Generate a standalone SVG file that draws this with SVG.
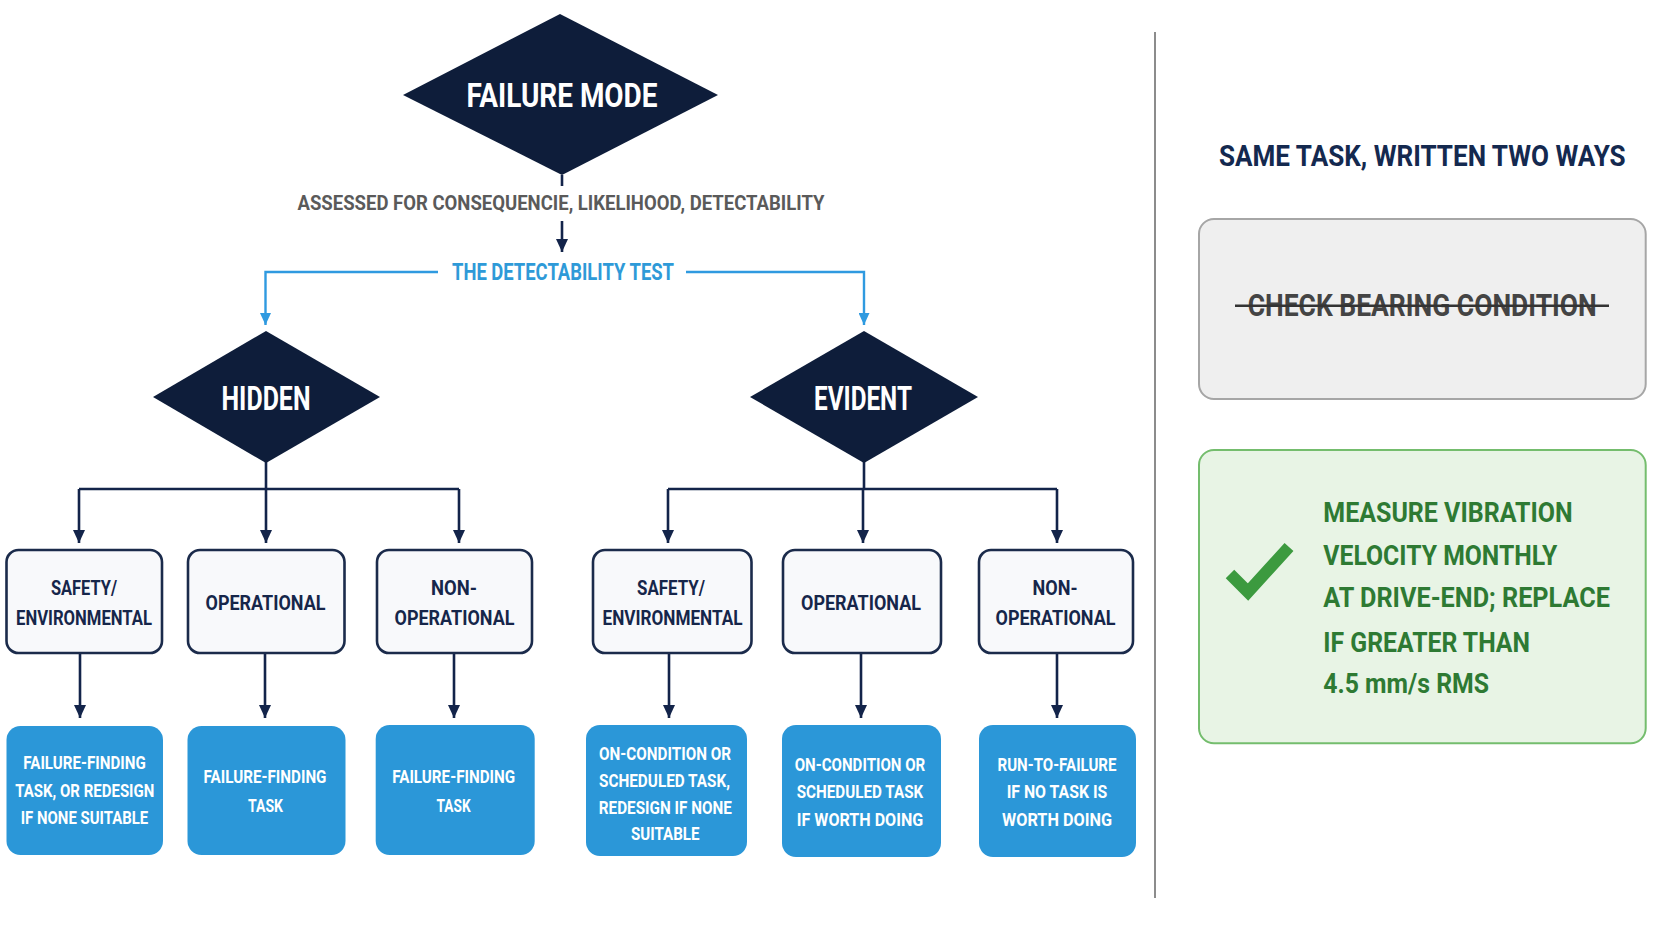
<svg xmlns="http://www.w3.org/2000/svg" width="1672" height="941" viewBox="0 0 1672 941">
<style>
text{font-family:"Liberation Sans Narrow","Roboto","DejaVu Sans Condensed",sans-serif;text-anchor:middle}
.dia{fill:#0e1d3a}
.dlab{fill:#ffffff;font-weight:700;font-size:33px}
.cat{fill:#f8f9fb;stroke:#1b2b4b;stroke-width:2.6}
.clab{fill:#16264a;font-weight:700;font-size:21px}
.task{fill:#2b97d8}
.tlab{fill:#ffffff;font-weight:700;font-size:19px}
.nav{fill:none;stroke:#13244a;stroke-width:2.6}
.blu{fill:none;stroke:#2f9ae0;stroke-width:2.4}
.gl{fill:#2e7a33;font-weight:700;font-size:28px;text-anchor:start}
</style>
<defs>
<marker id="an" viewBox="0 0 13 12" refX="13" refY="6" markerWidth="13" markerHeight="12" markerUnits="userSpaceOnUse" orient="auto"><path d="M0,0 L13,6 L0,12 z" fill="#13244a"/></marker>
<marker id="ab" viewBox="0 0 12 11" refX="12" refY="5.5" markerWidth="12" markerHeight="11" markerUnits="userSpaceOnUse" orient="auto"><path d="M0,0 L12,5.5 L0,11 z" fill="#2f9ae0"/></marker>
</defs>
<rect width="1672" height="941" fill="#ffffff"/>

<g id="connectors">
<path class="nav" d="M562,175 V186"/>
<path class="nav" d="M562,221 V252" marker-end="url(#an)"/>
<path class="blu" d="M438,272 H265.5 V325" marker-end="url(#ab)"/>
<path class="blu" d="M686,272 H864 V325" marker-end="url(#ab)"/>
<path class="nav" d="M266,462 V489"/>
<path class="nav" d="M79,489 H459"/>
<path class="nav" d="M79,489 V543" marker-end="url(#an)"/>
<path class="nav" d="M266,489 V543" marker-end="url(#an)"/>
<path class="nav" d="M459,489 V543" marker-end="url(#an)"/>
<path class="nav" d="M864,462 V489"/>
<path class="nav" d="M668,489 H1057"/>
<path class="nav" d="M668,489 V543" marker-end="url(#an)"/>
<path class="nav" d="M863,489 V543" marker-end="url(#an)"/>
<path class="nav" d="M1057,489 V543" marker-end="url(#an)"/>
<path class="nav" d="M80,653 V718" marker-end="url(#an)"/>
<path class="nav" d="M265,653 V718" marker-end="url(#an)"/>
<path class="nav" d="M454,653 V718" marker-end="url(#an)"/>
<path class="nav" d="M669,653 V718" marker-end="url(#an)"/>
<path class="nav" d="M861,653 V718" marker-end="url(#an)"/>
<path class="nav" d="M1057,653 V718" marker-end="url(#an)"/>
</g>

<g id="failure-mode">
<polygon class="dia" points="560,14 718,95 562,175 403,95"/>
<text class="dlab" x="562" y="107" font-size="32" textLength="191" lengthAdjust="spacingAndGlyphs">FAILURE MODE</text>
</g>
<g id="assessed">
<text x="561" y="210" fill="#5a5a5a" font-weight="700" font-size="21" textLength="527" lengthAdjust="spacingAndGlyphs">ASSESSED FOR CONSEQUENCIE, LIKELIHOOD, DETECTABILITY</text>
</g>
<g id="detectability-test">
<text x="563" y="280" fill="#2e9ad8" font-weight="700" font-size="23.5" textLength="222" lengthAdjust="spacingAndGlyphs">THE DETECTABILITY TEST</text>
</g>

<g id="hidden">
<polygon class="dia" points="266,331 380,397 266,463 153,397"/>
<text class="dlab" x="266" y="410" textLength="89" lengthAdjust="spacingAndGlyphs">HIDDEN</text>
</g>
<g id="evident">
<polygon class="dia" points="864,331 978,397 864,463 750,397"/>
<text class="dlab" x="863" y="410" textLength="98" lengthAdjust="spacingAndGlyphs">EVIDENT</text>
</g>

<g id="h-safety">
<rect class="cat" x="6.5" y="550" width="155.5" height="103" rx="12"/>
<text class="clab" x="84" y="595" textLength="66" lengthAdjust="spacingAndGlyphs">SAFETY/</text>
<text class="clab" x="84" y="625" textLength="136" lengthAdjust="spacingAndGlyphs">ENVIRONMENTAL</text>
</g>
<g id="h-operational">
<rect class="cat" x="188" y="550" width="156.5" height="103" rx="12"/>
<text class="clab" x="265.5" y="610" textLength="120" lengthAdjust="spacingAndGlyphs">OPERATIONAL</text>
</g>
<g id="h-nonoperational">
<rect class="cat" x="377" y="550" width="155" height="103" rx="12"/>
<text class="clab" x="454" y="595" textLength="46" lengthAdjust="spacingAndGlyphs">NON-</text>
<text class="clab" x="454.5" y="625" textLength="120" lengthAdjust="spacingAndGlyphs">OPERATIONAL</text>
</g>
<g id="e-safety">
<rect class="cat" x="593" y="550" width="158.5" height="103" rx="12"/>
<text class="clab" x="671" y="595" textLength="68" lengthAdjust="spacingAndGlyphs">SAFETY/</text>
<text class="clab" x="672.5" y="625" textLength="140" lengthAdjust="spacingAndGlyphs">ENVIRONMENTAL</text>
</g>
<g id="e-operational">
<rect class="cat" x="783" y="550" width="158" height="103" rx="12"/>
<text class="clab" x="861" y="610" textLength="120" lengthAdjust="spacingAndGlyphs">OPERATIONAL</text>
</g>
<g id="e-nonoperational">
<rect class="cat" x="979" y="550" width="154" height="103" rx="12"/>
<text class="clab" x="1055" y="595" textLength="45" lengthAdjust="spacingAndGlyphs">NON-</text>
<text class="clab" x="1055.5" y="625" textLength="120" lengthAdjust="spacingAndGlyphs">OPERATIONAL</text>
</g>

<g id="h-safety-task">
<rect class="task" x="6.5" y="726" width="156.5" height="129" rx="14"/>
<text class="tlab" x="84.5" y="769" textLength="122.5" lengthAdjust="spacingAndGlyphs">FAILURE-FINDING</text>
<text class="tlab" x="84.8" y="796.5" textLength="139" lengthAdjust="spacingAndGlyphs">TASK, OR REDESIGN</text>
<text class="tlab" x="84.5" y="823.5" textLength="127.5" lengthAdjust="spacingAndGlyphs">IF NONE SUITABLE</text>
</g>
<g id="h-operational-task">
<rect class="task" x="187.5" y="726" width="158" height="129" rx="14"/>
<text class="tlab" x="265" y="783" textLength="123" lengthAdjust="spacingAndGlyphs">FAILURE-FINDING</text>
<text class="tlab" x="265.5" y="811.5" textLength="35" lengthAdjust="spacingAndGlyphs">TASK</text>
</g>
<g id="h-nonoperational-task">
<rect class="task" x="375.7" y="725" width="159" height="130" rx="14"/>
<text class="tlab" x="453.7" y="783" textLength="123" lengthAdjust="spacingAndGlyphs">FAILURE-FINDING</text>
<text class="tlab" x="453.6" y="811.5" textLength="34" lengthAdjust="spacingAndGlyphs">TASK</text>
</g>
<g id="e-safety-task">
<rect class="task" x="586" y="725" width="161" height="131" rx="14"/>
<text class="tlab" x="665" y="760" textLength="132" lengthAdjust="spacingAndGlyphs">ON-CONDITION OR</text>
<text class="tlab" x="664.5" y="787" textLength="131" lengthAdjust="spacingAndGlyphs">SCHEDULED TASK,</text>
<text class="tlab" x="665.3" y="814" textLength="133" lengthAdjust="spacingAndGlyphs">REDESIGN IF NONE</text>
<text class="tlab" x="665.2" y="840" textLength="68.5" lengthAdjust="spacingAndGlyphs">SUITABLE</text>
</g>
<g id="e-operational-task">
<rect class="task" x="782" y="725" width="159" height="132" rx="14"/>
<text class="tlab" x="860" y="771" textLength="130.6" lengthAdjust="spacingAndGlyphs">ON-CONDITION OR</text>
<text class="tlab" x="860" y="798.3" textLength="126.5" lengthAdjust="spacingAndGlyphs">SCHEDULED TASK</text>
<text class="tlab" x="860" y="825.7" textLength="126.5" lengthAdjust="spacingAndGlyphs">IF WORTH DOING</text>
</g>
<g id="e-nonoperational-task">
<rect class="task" x="979" y="725" width="157" height="132" rx="14"/>
<text class="tlab" x="1057" y="771" textLength="119" lengthAdjust="spacingAndGlyphs">RUN-TO-FAILURE</text>
<text class="tlab" x="1057" y="798.3" textLength="100.7" lengthAdjust="spacingAndGlyphs">IF NO TASK IS</text>
<text class="tlab" x="1057" y="825.7" textLength="110" lengthAdjust="spacingAndGlyphs">WORTH DOING</text>
</g>

<line x1="1155" y1="32" x2="1155" y2="898" stroke="#8c8c8c" stroke-width="2"/>

<g id="panel-title">
<text x="1422.3" y="165.7" fill="#14294f" font-weight="700" font-size="30" textLength="406.7" lengthAdjust="spacingAndGlyphs">SAME TASK, WRITTEN TWO WAYS</text>
</g>
<g id="bad-task">
<rect x="1199" y="219" width="446.7" height="180" rx="15" fill="#efefef" stroke="#a6a6a6" stroke-width="2"/>
<text x="1422.2" y="316" fill="#444444" font-weight="700" font-size="31" textLength="349" lengthAdjust="spacingAndGlyphs">CHECK BEARING CONDITION</text>
<line x1="1235" y1="305.7" x2="1609" y2="305.7" stroke="#333333" stroke-width="2.5"/>
</g>
<g id="good-task">
<rect x="1199" y="450" width="446.7" height="293.3" rx="15" fill="#e8f4e5" stroke="#74bd6d" stroke-width="2"/>
<path d="M1230,574 L1248,592 L1289,547" fill="none" stroke="#3c9a3f" stroke-width="12" stroke-linecap="butt" stroke-linejoin="miter"/>
<text class="gl" x="1323.3" y="521.7" textLength="249.3" lengthAdjust="spacingAndGlyphs">MEASURE VIBRATION</text>
<text class="gl" x="1323.3" y="565" textLength="234" lengthAdjust="spacingAndGlyphs">VELOCITY MONTHLY</text>
<text class="gl" x="1323.3" y="606.7" textLength="286.7" lengthAdjust="spacingAndGlyphs">AT DRIVE-END; REPLACE</text>
<text class="gl" x="1323.3" y="651.7" textLength="206.7" lengthAdjust="spacingAndGlyphs">IF GREATER THAN</text>
<text class="gl" x="1323.3" y="693.3" textLength="165.7" lengthAdjust="spacingAndGlyphs">4.5 mm/s RMS</text>
</g>
</svg>
